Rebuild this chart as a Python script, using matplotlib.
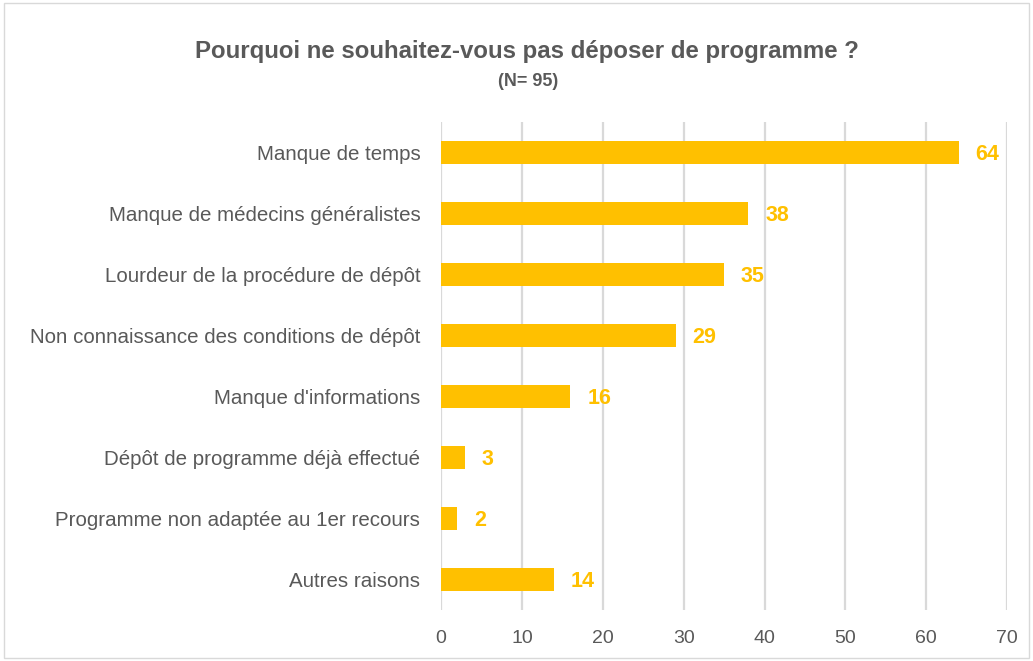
import matplotlib.pyplot as plt
from matplotlib.patches import Rectangle

# Chart data
categories = [
    "Manque de temps",
    "Manque de médecins généralistes",
    "Lourdeur de la procédure de dépôt",
    "Non connaissance des conditions de dépôt",
    "Manque d'informations",
    "Dépôt de programme déjà effectué",
    "Programme non adaptée au 1er recours",
    "Autres raisons",
]
values = [64, 38, 35, 29, 16, 3, 2, 14]
xticks = [0, 10, 20, 30, 40, 50, 60, 70]

BAR_COLOR = "#FFC000"
TEXT_COLOR = "#595959"
GRID_COLOR = "#D9D9D9"

plt.rcParams['font.family'] = ['Liberation Sans', 'DejaVu Sans']

fig = plt.figure(figsize=(10.33, 6.61), dpi=100)
ax = fig.add_axes([0.427, 0.077, 0.548, 0.738])

pos = list(range(len(categories)))
ax.barh(pos, values, height=0.37, color=BAR_COLOR, zorder=3)
ax.set_ylim(len(categories) - 0.5, -0.5)
ax.set_xlim(0, 70)
ax.set_xticks(xticks)
ax.set_yticks(pos)
ax.set_yticklabels(categories, fontsize=14.8, color=TEXT_COLOR)
ax.tick_params(axis='x', labelsize=14, colors=TEXT_COLOR, length=0, pad=14)
ax.tick_params(axis='y', length=0, pad=15)
ax.grid(axis='x', color=GRID_COLOR, linewidth=1.6, zorder=0)
for s in ax.spines.values():
    s.set_visible(False)

# value labels
for p, v in zip(pos, values):
    ax.annotate(str(v), (v, p), xytext=(12, -1), textcoords='offset points',
                va='center', ha='left', fontsize=15.5, fontweight='bold',
                color=BAR_COLOR)

fig.text(0.51, 0.922, "Pourquoi ne souhaitez-vous pas déposer de programme ?",
         ha='center', va='center', fontsize=17.3, fontweight='bold', color=TEXT_COLOR)
fig.text(0.511, 0.876, "(N= 95)", ha='center', va='center', fontsize=13,
         fontweight='bold', color=TEXT_COLOR)

# outer border
fig.patches.append(Rectangle((0.004, 0.004), 0.992, 0.992, transform=fig.transFigure,
                             fill=False, edgecolor=GRID_COLOR, linewidth=1))

fig.savefig("out.png", dpi=100)
